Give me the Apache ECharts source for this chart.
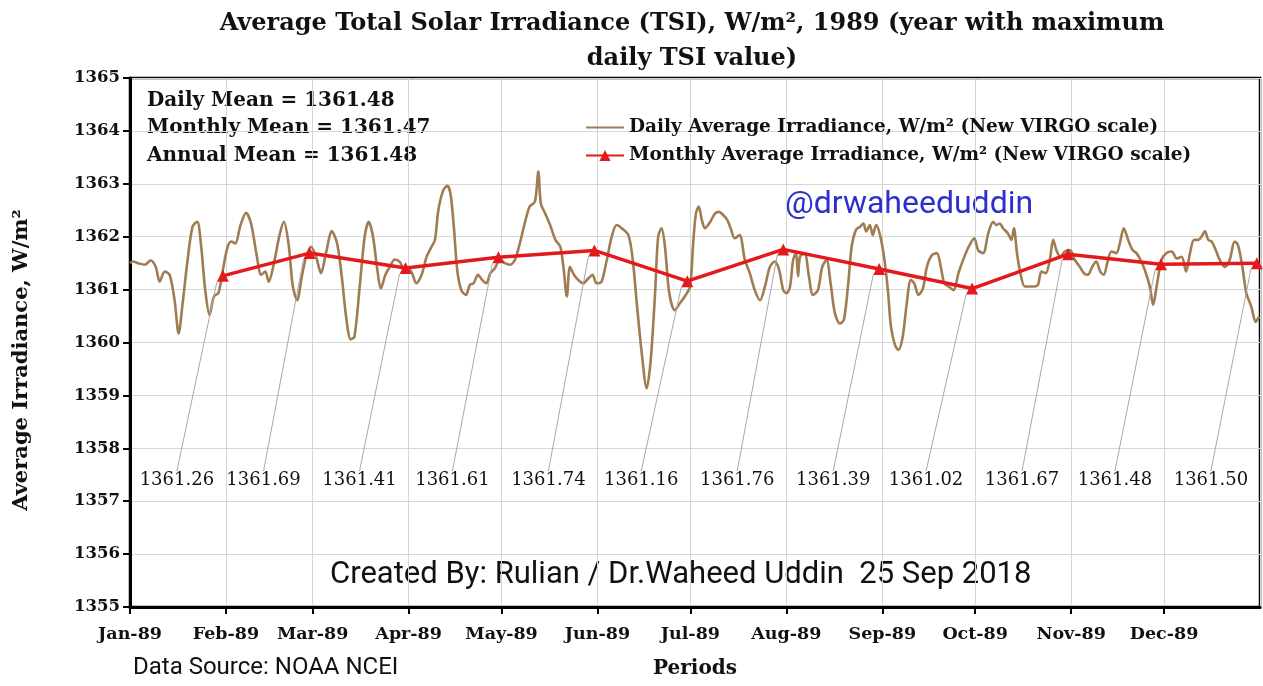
<!DOCTYPE html>
<html>
<head>
<meta charset="utf-8">
<title>Average Total Solar Irradiance (TSI), 1989</title>
<script src="https://cdn.jsdelivr.net/npm/echarts@6/dist/echarts.min.js"></script>
<style>
  html, body { margin: 0; padding: 0; background: #fff; }
  #chart { width: 1263px; height: 686px; }
</style>
</head>
<body>
<div id="chart"></div>
<script>
// month tick labels
const monthLabels = ['Jan-89', 'Feb-89', 'Mar-89', 'Apr-89', 'May-89', 'Jun-89',
  'Jul-89', 'Aug-89', 'Sep-89', 'Oct-89', 'Nov-89', 'Dec-89']

// daily average irradiance (days since 1 Jan 1989)
const dailyDay = [
  0, 1, 2.6, 4.7, 6.7, 8.3, 9.6, 11.2, 12.8, 14.4, 15.7, 17, 18.6, 20.2, 21.7, 23, 24.3, 25.7, 27.1, 28.6,
  30, 31.4, 32.7, 34, 35.7, 37.5, 39.1, 40.8, 42.4, 43.7, 44.8, 46.7, 48.3, 49.7, 51.2, 52.6, 54, 55.5, 56.9, 58.5,
  60.1, 61.7, 63.3, 65.2, 66.9, 68.4, 69.8, 71.3, 72.5, 74.2, 75.8, 77.1, 78.5, 79.9, 81, 82.5, 83.9, 85.5, 87.1, 88.7,
  90.4, 92.5, 94.2, 95.8, 97.4, 98.5, 99.6, 101.2, 102.5, 103.5, 104.6, 105.7, 107, 108.5, 109.8, 111, 112.4, 113.8, 115.1, 116.4,
  117.8, 119.5, 121.1, 122.7, 124.3, 125.9, 127.5, 129.1, 130.8, 131.9, 132.7, 134.1, 135.7, 137.4, 139, 140.1, 141.1, 142.1, 143.4, 144.8,
  146.4, 148, 149.4, 150.7, 152.3, 154, 155.6, 157.2, 158.8, 161, 162.4, 163.7, 165.3, 166.9, 168.2, 169.6, 170.6, 171.7, 172.8, 174.2,
  176, 177.6, 179.2, 180.9, 181.9, 182.8, 183.7, 184.7, 185.7, 187.4, 189, 190.3, 191.6, 192.9, 194.2, 195.3, 196.9, 198.6, 200.2, 201.8,
  203.5, 205.1, 206.7, 208.3, 209.7, 211, 212.1, 213.2, 214.2, 215.1, 215.8, 216.4, 217.9, 219.3, 220.6, 222.2, 223.6, 225, 226.3, 227.7,
  229.3, 230.6, 232, 233.1, 234.5, 235.8, 236.9, 237.8, 239, 239.9, 241, 242.4, 243.7, 244.8, 245.8, 247.1, 248.2, 249.6, 250.9, 252.2,
  253.3, 254.7, 256.1, 257.4, 259, 260.6, 261.9, 263, 264.4, 266, 267.6, 269.3, 270.9, 272.7, 274, 275.6, 277.2, 278.8, 279.9, 280.9,
  282, 283.6, 284.7, 285.5, 286.5, 287.6, 289, 290.6, 292.3, 293.3, 294.4, 295.8, 297.1, 298.2, 299.2, 300.5, 301.9, 303.6, 305.2, 306.8,
  308.1, 309.4, 310.8, 312.1, 313.4, 314.5, 315.9, 317, 318.6, 319.7, 321, 322.4, 323.8, 325.1, 326.4, 327.8, 329.4, 330.5, 331.6, 333.2,
  334.8, 336.5, 338.1, 339.7, 341.1, 342.4, 343.7, 345.1, 346.1, 347.2, 348.3, 349.4, 350.7, 352, 353.6, 355.2, 356.8, 357.9, 359.3, 360.6,
  362.2, 363.6, 364.7
]
const dailyTSI = [
  1361.50, 1361.53, 1361.50, 1361.47, 1361.55, 1361.43, 1361.15, 1361.34, 1361.28, 1360.80, 1360.17, 1360.74, 1361.56, 1362.19, 1362.28, 1361.81, 1360.99, 1360.52, 1360.87, 1360.94,
  1361.37, 1361.78, 1361.91, 1361.87, 1362.22, 1362.45, 1362.25, 1361.69, 1361.28, 1361.34, 1361.15, 1361.56, 1362.03, 1362.28, 1361.87, 1361.06, 1360.80, 1361.25, 1361.62, 1361.81,
  1361.62, 1361.31, 1361.69, 1362.10, 1361.87, 1361.25, 1360.49, 1360.06, 1360.11, 1361.06, 1362.00, 1362.28, 1362.00, 1361.37, 1361.02, 1361.28, 1361.43, 1361.57, 1361.53, 1361.37,
  1361.37, 1361.12, 1361.28, 1361.62, 1361.81, 1361.94, 1362.50, 1362.88, 1362.96, 1362.82, 1362.19, 1361.37, 1360.99, 1360.90, 1361.09, 1361.12, 1361.28, 1361.18, 1361.12, 1361.31,
  1361.40, 1361.56, 1361.50, 1361.47, 1361.56, 1361.87, 1362.25, 1362.57, 1362.66, 1363.23, 1362.63, 1362.44, 1362.22, 1361.94, 1361.81, 1361.37, 1360.87, 1361.43, 1361.28, 1361.18,
  1361.12, 1361.21, 1361.28, 1361.12, 1361.15, 1361.56, 1362.00, 1362.22, 1362.16, 1362.03, 1361.56, 1360.74, 1359.80, 1359.13, 1359.67, 1360.93, 1362.00, 1362.16, 1361.81, 1360.93,
  1360.61, 1360.74, 1360.87, 1361.06, 1361.87, 1362.44, 1362.57, 1362.32, 1362.16, 1362.28, 1362.44, 1362.47, 1362.41, 1362.32, 1362.13, 1361.97, 1362.03, 1361.56, 1361.31, 1360.99,
  1360.80, 1361.06, 1361.43, 1361.53, 1361.37, 1360.99, 1360.93, 1361.06, 1361.56, 1361.69, 1361.25, 1361.62, 1361.69, 1361.25, 1360.90, 1360.99, 1361.43, 1361.56, 1361.12, 1360.55,
  1360.36, 1360.43, 1361.12, 1361.81, 1362.13, 1362.19, 1362.25, 1362.10, 1362.22, 1362.03, 1362.22, 1362.00, 1361.56, 1360.99, 1360.30, 1359.95, 1359.86, 1360.11, 1360.74, 1361.18,
  1361.12, 1360.90, 1361.02, 1361.43, 1361.65, 1361.69, 1361.43, 1361.12, 1361.06, 1360.99, 1361.31, 1361.59, 1361.81, 1361.97, 1361.74, 1361.69, 1362.06, 1362.28, 1362.22, 1362.25,
  1362.16, 1362.06, 1361.94, 1362.16, 1361.69, 1361.31, 1361.06, 1361.06, 1361.06, 1361.09, 1361.34, 1361.31, 1361.56, 1361.94, 1361.75, 1361.62, 1361.72, 1361.75, 1361.56, 1361.43,
  1361.31, 1361.28, 1361.43, 1361.53, 1361.34, 1361.28, 1361.56, 1361.72, 1361.69, 1361.87, 1362.16, 1361.94, 1361.75, 1361.69, 1361.56, 1361.37, 1361.06, 1360.71, 1361.06, 1361.56,
  1361.69, 1361.72, 1361.59, 1361.62, 1361.34, 1361.69, 1361.94, 1361.94, 1362.00, 1362.10, 1361.94, 1361.91, 1361.75, 1361.56, 1361.43, 1361.56, 1361.91, 1361.84, 1361.43, 1360.93,
  1360.68, 1360.39, 1360.49
]

// monthly averages, plotted on the last day of each month
const monthlyDay = [30, 58, 89, 119, 150, 180, 211, 242, 272, 303, 333, 364]
const monthlyTSI = [1361.26, 1361.69, 1361.41, 1361.61, 1361.74, 1361.16,
  1361.76, 1361.39, 1361.02, 1361.67, 1361.48, 1361.50]

const statLines = ['Daily Mean = 1361.48', 'Monthly Mean = 1361.47', 'Annual Mean = 1361.48']
const labelLevel = 1357.4 // value level where the monthly labels sit

const serif = "'DejaVu Serif', 'Liberation Serif', serif"
const sans = 'Roboto, sans-serif'
const DAY = 86400000
const start = new Date(1989, 0, 1).getTime()
const end = new Date(1990, 0, 1).getTime()
const toTime = d => start + d * DAY

const dailyName = 'Daily Average Irradiance, W/m² (New VIRGO scale)'
const monthlyName = 'Monthly Average Irradiance, W/m² (New VIRGO scale)'

const chart = echarts.init(document.getElementById('chart'))

const option = {
  animation: false,
  backgroundColor: '#fff',
  grid: {
    left: 130,
    right: 3,
    top: 78,
    bottom: 79,
    show: true,
    borderColor: '#000',
    borderWidth: 2.5,
    outerBoundsMode: 'none'
  },
  legend: {
    orient: 'vertical',
    left: 580,
    top: 113,
    itemWidth: 38,
    itemHeight: 14,
    itemGap: 9,
    textStyle: { fontFamily: serif, fontWeight: 'bold', fontSize: 18.5, color: '#111' },
    data: [
      { name: dailyName, itemStyle: { opacity: 0 } },
      { name: monthlyName }
    ]
  },
  xAxis: {
    type: 'time',
    min: start,
    max: end,
    splitNumber: 12,
    minInterval: 28 * DAY,
    maxInterval: 31 * DAY,
    name: 'Periods',
    nameLocation: 'middle',
    nameGap: 52,
    nameTextStyle: { fontFamily: serif, fontWeight: 'bold', fontSize: 20, color: '#111' },
    axisLine: { show: true, lineStyle: { color: '#000', width: 3 } },
    axisTick: { show: true, length: 7, lineStyle: { color: '#000', width: 2 } },
    axisLabel: {
      margin: 18,
      fontFamily: serif,
      fontWeight: 'bold',
      fontSize: 17.5,
      color: '#111',
      hideOverlap: false,
      formatter: function (value) {
        const d = new Date(value)
        if (d.getFullYear() !== 1989) return ''
        return monthLabels[d.getMonth()]
      }
    },
    splitLine: { show: true, lineStyle: { color: '#d6d6d6', width: 1 } }
  },
  yAxis: {
    type: 'value',
    min: 1355,
    max: 1365,
    interval: 1,
    axisLine: { show: true, lineStyle: { color: '#000', width: 3 } },
    axisTick: { show: true, length: 7, lineStyle: { color: '#000', width: 2 } },
    axisLabel: {
      margin: 10,
      fontFamily: serif,
      fontWeight: 'bold',
      fontSize: 16.5,
      color: '#111',
      formatter: v => String(v)
    },
    splitLine: { show: true, lineStyle: { color: '#d6d6d6', width: 1 } }
  },
  graphic: [
    {
      type: 'text',
      x: 692,
      y: 6,
      style: {
        text: 'Average Total Solar Irradiance (TSI), W/m², 1989 (year with maximum\ndaily TSI value)',
        fontFamily: serif,
        fontWeight: 'bold',
        fontSize: 24,
        lineHeight: 35,
        align: 'center',
        fill: '#111'
      }
    },
    {
      type: 'text',
      x: 22,
      y: 360,
      rotation: Math.PI / 2,
      style: {
        text: 'Average Irradiance, W/m²',
        fontFamily: serif,
        fontWeight: 'bold',
        fontSize: 21,
        align: 'center',
        verticalAlign: 'middle',
        fill: '#111'
      }
    },
    {
      type: 'text',
      left: 147,
      top: 87,
      style: {
        text: statLines.join('\n'),
        fontFamily: serif,
        fontWeight: 'bold',
        fontSize: 20,
        lineHeight: 27.5,
        fill: '#111'
      }
    },
    {
      type: 'text',
      left: 785,
      top: 189,
      style: { text: '@drwaheeduddin', fontFamily: sans, fontSize: 32, fill: '#2f2fd0' }
    },
    {
      type: 'text',
      left: 330,
      top: 560,
      style: { text: 'Created By: Rulian / Dr.Waheed Uddin  25 Sep 2018', fontFamily: sans, fontSize: 31, fill: '#111' }
    },
    {
      type: 'text',
      left: 133,
      top: 656,
      style: { text: 'Data Source: NOAA NCEI', fontFamily: sans, fontSize: 24, fill: '#111' }
    }
  ],
  series: [
    {
      name: dailyName,
      type: 'line',
      symbol: 'none',
      smooth: 0.3,
      lineStyle: { color: '#a07c52', width: 2.6 },
      itemStyle: { color: '#a07c52' },
      data: dailyDay.map((d, i) => [toTime(d), dailyTSI[i]]),
      z: 2
    },
    {
      name: monthlyName,
      type: 'line',
      symbol: 'triangle',
      symbolSize: 12,
      lineStyle: { color: '#e3191c', width: 3.5 },
      itemStyle: { color: '#e3191c' },
      data: monthlyDay.map((d, i) => [toTime(d), monthlyTSI[i]]),
      label: {
        show: true,
        position: 'bottom',
        fontFamily: serif,
        fontSize: 18,
        color: '#111',
        formatter: p => p.value[1].toFixed(2)
      },
      labelLine: { show: true, lineStyle: { color: '#a8a8a8', width: 1 } },
      labelLayout: function (params) {
        const cx = params.rect.x + params.rect.width / 2
        const y = chart.convertToPixel({ yAxisIndex: 0 }, labelLevel)
        return { x: cx - 46, y: y, align: 'center', verticalAlign: 'middle' }
      },
      z: 3
    }
  ]
}

chart.setOption(option)
</script>
</body>
</html>
